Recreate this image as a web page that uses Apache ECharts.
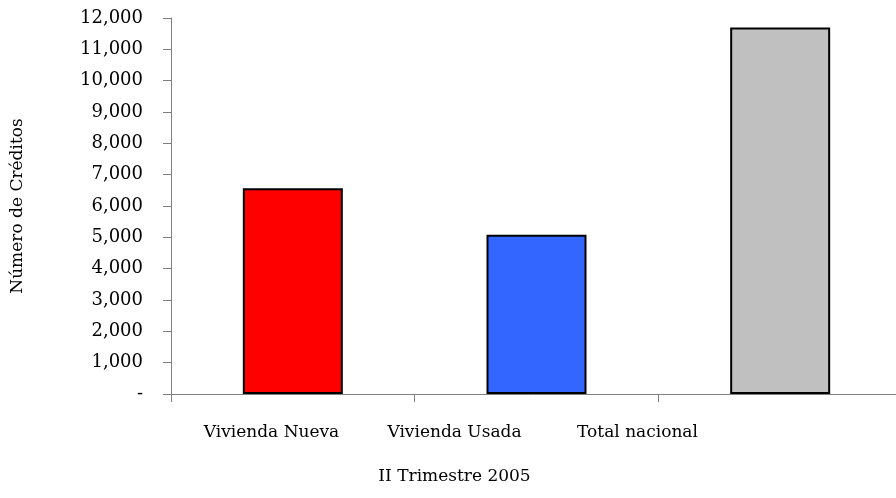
<!DOCTYPE html>
<html>
<head>
<meta charset="utf-8">
<script src="https://cdn.jsdelivr.net/npm/echarts@6/dist/echarts.min.js"></script>
<style>
  html, body { margin: 0; padding: 0; background: #fff; }
  #chart { width: 896px; height: 498px; }
</style>
</head>
<body>
<div id="chart"></div>
<script>
  // datos
  const categories = ['Vivienda Nueva', 'Vivienda Usada', 'Total nacional']
  const creditos = [6570, 5080, 11700]
  const barColors = ['#FF0000', '#3366FF', '#C0C0C0']
  const yTitle = 'Número de Créditos'
  const xTitle = 'II Trimestre 2005'

  const serif = 'DejaVu Serif'
  const chart = echarts.init(document.getElementById('chart'))

  chart.setOption({
    animation: false,
    grid: [
      // el eje X sigue mas alla del borde derecho
      { left: 171, top: 18, width: 731, height: 376, outerBoundsMode: 'none' },
      // las etiquetas del eje X estan desplazadas respecto de las barras
      { left: 180, top: 18, width: 549, height: 376, outerBoundsMode: 'none' }
    ],
    xAxis: [{
      type: 'category',
      gridIndex: 0,
      data: categories,
      axisLine: { lineStyle: { color: '#808080', width: 1 } },
      axisTick: { show: true, length: 8, lineStyle: { color: '#808080' } },
      axisLabel: { show: false }
    }, {
      type: 'category',
      gridIndex: 1,
      data: categories,
      axisLine: { show: false },
      axisTick: { show: false },
      axisLabel: { margin: 30, color: '#000', fontFamily: serif, fontSize: 17 },
      name: xTitle,
      nameLocation: 'middle',
      nameGap: 74,
      nameTextStyle: { color: '#000', fontFamily: serif, fontSize: 17 }
    }],
    yAxis: [{
      type: 'value',
      gridIndex: 0,
      min: 0,
      max: 12000,
      interval: 1000,
      splitLine: { show: false },
      axisLine: { show: true, lineStyle: { color: '#808080', width: 1 } },
      axisTick: { show: true, length: 8, lineStyle: { color: '#808080' } },
      axisLabel: {
        margin: 28,
        color: '#000',
        fontFamily: serif,
        fontSize: 18,
        formatter: v => v === 0 ? '-' : v.toLocaleString('en-US')
      },
      name: yTitle,
      nameLocation: 'middle',
      nameGap: 145,
      nameRotate: 90,
      nameTextStyle: { color: '#000', fontFamily: serif, fontSize: 17 }
    }, {
      type: 'value',
      gridIndex: 1,
      show: false
    }],
    series: [{
      type: 'bar',
      xAxisIndex: 0,
      yAxisIndex: 0,
      barWidth: 100,
      data: creditos.map((v, i) => ({
        value: v,
        itemStyle: { color: barColors[i] }
      })),
      itemStyle: { borderColor: '#000', borderWidth: 2 }
    }]
  })
</script>
</body>
</html>
